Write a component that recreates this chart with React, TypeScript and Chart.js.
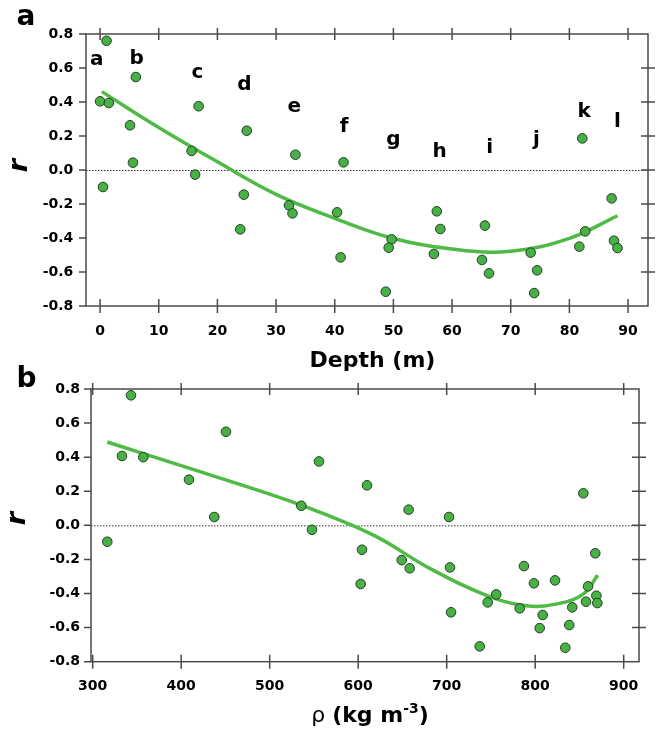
import { useEffect, useRef } from "react";
import { Chart, registerables } from "chart.js";
Chart.register(...registerables);

// ---------- Panel a: r vs depth ----------
const depthX = [1.1, 0, 1.5, 0.5, 6.1, 5.1, 5.6, 16.8, 15.6, 16.2, 25.0, 24.5, 23.9, 33.3, 32.2, 32.8, 40.4, 41.0, 41.5, 49.7, 49.2, 48.7, 57.4, 58.0, 56.9, 65.6, 65.1, 66.3, 73.4, 74.5, 74.0, 82.2, 82.7, 81.7, 87.2, 87.6, 88.2];
const depthR = [0.76, 0.404, 0.394, -0.10, 0.547, 0.263, 0.043, 0.375, 0.112, -0.027, 0.231, -0.145, -0.349, 0.09, -0.208, -0.255, -0.249, -0.514, 0.045, -0.408, -0.457, -0.716, -0.243, -0.347, -0.494, -0.327, -0.529, -0.608, -0.486, -0.59, -0.724, 0.186, -0.361, -0.451, -0.167, -0.416, -0.459];
const depthFitX = [0.3, 10, 20, 30, 40, 50, 60, 70, 80, 88.2];
const depthFitR = [0.461, 0.25, 0.048, -0.143, -0.284, -0.403, -0.465, -0.478, -0.402, -0.269];
const depthTicks = [0, 10, 20, 30, 40, 50, 60, 70, 80, 90];
const depthTickLabels = ["0", "10", "20", "30", "40", "50", "60", "70", "80", "90"];
const siteLetters = ["a", "b", "c", "d", "e", "f", "g", "h", "i", "j", "k", "l"];
const siteLetterX = [-0.56, 6.25, 16.6, 24.6, 33.1, 41.6, 50.0, 57.9, 66.4, 74.4, 82.5, 88.2];
const siteLetterY = [0.618, 0.624, 0.539, 0.471, 0.343, 0.225, 0.147, 0.078, 0.098, 0.147, 0.314, 0.255];

// ---------- Panel b: r vs density ----------
const rhoX = [343.3, 333.1, 357.2, 316.5, 408.8, 437.4, 450.6, 535.7, 547.8, 555.7, 610, 604.3, 602.8, 657, 649.2, 658.2, 702.6, 703.7, 704.9, 737.3, 746.3, 756.0, 782.5, 787.3, 798.6, 808.5, 805.1, 822.4, 834.0, 838.5, 841.9, 854.4, 857.4, 859.7, 867.9, 869.1, 870.2];
const rhoR = [0.763, 0.407, 0.40, -0.096, 0.268, 0.049, 0.549, 0.115, -0.026, 0.375, 0.235, -0.143, -0.344, 0.092, -0.204, -0.252, 0.049, -0.247, -0.51, -0.71, -0.452, -0.405, -0.487, -0.239, -0.34, -0.526, -0.603, -0.323, -0.718, -0.585, -0.481, 0.188, -0.448, -0.358, -0.164, -0.413, -0.456];
const rhoFitX = [316.5, 400, 500, 560, 620, 680, 740, 790, 830, 855, 870.6];
const rhoFitR = [0.489, 0.35, 0.183, 0.07, -0.065, -0.25, -0.40, -0.472, -0.455, -0.40, -0.292];
const rhoTicks = [300, 400, 500, 600, 700, 800, 900];
const rhoTickLabels = ["300", "400", "500", "600", "700", "800", "900"];

// ---------- shared y axis ----------
const rTicks = [-0.8, -0.6, -0.4, -0.2, 0, 0.2, 0.4, 0.6, 0.8];
const rTickLabels = ["-0.8", "-0.6", "-0.4", "-0.2", "0.0", "0.2", "0.4", "0.6", "0.8"];

const FILL = "#48b046";
const EDGE = "#1f3f1f";
const LINE = "#4fba46";
const AXIS = "#4a4a4a";
const FONT = "DejaVu Sans";

type Panel = {
  ptX: number[]; ptY: number[]; fitX: number[]; fitY: number[];
  xMin: number; xMax: number; xTicks: number[]; xTickLabels: string[];
  padTop: number; padRight: number; yAxisW: number; xAxisH: number;
  xPad: number; yPad: number;
  panel: string; panelX: number; panelY: number;
  rX: number; rY: number;
  titleDx: number; titleDy: number;
  drawTitle: (ctx: CanvasRenderingContext2D, cx: number, base: number) => void;
  letters?: boolean;
};

function overlay(p: Panel) {
  return {
    id: "overlay" + p.panel,
    beforeDatasetsDraw(chart: any) {
      const { ctx, chartArea: a, scales } = chart;
      const y0 = scales.y.getPixelForValue(0);
      ctx.save();
      ctx.strokeStyle = "#333";
      ctx.lineWidth = 1;
      ctx.setLineDash([1.5, 1.5]);
      ctx.beginPath();
      ctx.moveTo(a.left, y0 + 0.5);
      ctx.lineTo(a.right, y0 + 0.5);
      ctx.stroke();
      ctx.restore();
    },
    afterDraw(chart: any) {
      const { ctx, chartArea: a, scales } = chart;
      const xs = scales.x, ys = scales.y;
      ctx.save();
      ctx.strokeStyle = AXIS;
      ctx.lineWidth = 1.5;
      ctx.strokeRect(a.left, a.top, a.right - a.left, a.bottom - a.top);
      ctx.beginPath();
      for (const v of p.xTicks) {
        const px = xs.getPixelForValue(v);
        ctx.moveTo(px, a.bottom - 7);
        ctx.lineTo(px, a.bottom + 7);
        ctx.moveTo(px, a.top - 6);
        ctx.lineTo(px, a.top + 6);
      }
      for (const v of rTicks) {
        const py = ys.getPixelForValue(v);
        ctx.moveTo(a.left - 7, py);
        ctx.lineTo(a.left, py);
        if (v > -0.79 && v < 0.79) {
          ctx.moveTo(a.right - 7, py);
          ctx.lineTo(a.right + 7, py);
        }
      }
      ctx.stroke();

      ctx.fillStyle = "#000";
      if (p.letters) {
        ctx.font = `bold 20px "${FONT}"`;
        ctx.textAlign = "center";
        ctx.textBaseline = "alphabetic";
        siteLetters.forEach((s, i) => {
          ctx.fillText(s, xs.getPixelForValue(siteLetterX[i]), ys.getPixelForValue(siteLetterY[i]));
        });
      }
      // panel label
      ctx.font = `bold 28px "${FONT}"`;
      ctx.textAlign = "center";
      ctx.textBaseline = "alphabetic";
      ctx.fillText(p.panel, p.panelX, p.panelY);
      // y title
      ctx.save();
      ctx.translate(p.rX, p.rY);
      ctx.rotate(-Math.PI / 2);
      ctx.font = `italic bold 27px "${FONT}"`;
      ctx.textAlign = "center";
      ctx.textBaseline = "alphabetic";
      ctx.fillText("r", 0, 0);
      ctx.restore();
      // x title
      p.drawTitle(ctx, (a.left + a.right) / 2 + p.titleDx, a.bottom + p.titleDy);
      ctx.restore();
    },
  };
}

function makeConfig(p: Panel): any {
  const tickFont = { family: FONT, weight: "bold" as const, size: 14 };
  return {
    type: "scatter",
    data: {
      datasets: [
        {
          type: "line",
          data: p.fitX.map((x, i) => ({ x, y: p.fitY[i] })),
          borderColor: LINE,
          borderWidth: 3.5,
          pointRadius: 0,
          tension: 0.4,
          fill: false,
          order: 2,
        },
        {
          type: "scatter",
          data: p.ptX.map((x, i) => ({ x, y: p.ptY[i] })),
          backgroundColor: FILL,
          borderColor: EDGE,
          borderWidth: 1,
          pointRadius: 4.8,
          order: 1,
        },
      ],
    },
    options: {
      animation: false,
      responsive: false,
      devicePixelRatio: 1,
      events: [],
      layout: { padding: { top: p.padTop, right: p.padRight, left: 0, bottom: 0 } },
      plugins: { legend: { display: false }, tooltip: { enabled: false } },
      scales: {
        x: {
          type: "linear",
          min: p.xMin,
          max: p.xMax,
          afterFit: (s: any) => { s.height = p.xAxisH; },
          afterBuildTicks: (s: any) => { s.ticks = p.xTicks.map((v) => ({ value: v })); },
          ticks: {
            callback: (_v: any, i: number) => p.xTickLabels[i],
            font: tickFont,
            color: "#000",
            padding: p.xPad,
            maxRotation: 0,
            autoSkip: false,
          },
          grid: { display: false, drawTicks: false },
          border: { display: false },
        },
        y: {
          type: "linear",
          min: -0.8,
          max: 0.8,
          afterFit: (s: any) => { s.width = p.yAxisW; },
          afterBuildTicks: (s: any) => { s.ticks = rTicks.map((v) => ({ value: v })); },
          ticks: {
            callback: (_v: any, i: number) => rTickLabels[i],
            font: tickFont,
            color: "#000",
            padding: p.yPad,
            autoSkip: false,
          },
          grid: { display: false, drawTicks: false },
          border: { display: false },
        },
      },
    },
    plugins: [overlay(p)],
  };
}

const drawDepthTitle = (ctx: CanvasRenderingContext2D, cx: number, base: number) => {
  ctx.font = `bold 22px "${FONT}"`;
  ctx.textAlign = "center";
  ctx.textBaseline = "alphabetic";
  ctx.fillText("Depth (m)", cx, base);
};

const drawRhoTitle = (ctx: CanvasRenderingContext2D, cx: number, base: number) => {
  const parts = [
    { t: "ρ ", f: `22px "${FONT}"`, dy: 0 },
    { t: "(kg m", f: `bold 22px "${FONT}"`, dy: 0 },
    { t: "-3", f: `bold 14px "${FONT}"`, dy: -8.5 },
    { t: ")", f: `bold 22px "${FONT}"`, dy: 0 },
  ];
  let total = 0;
  const widths = parts.map((q) => { ctx.font = q.f; const w = ctx.measureText(q.t).width; total += w; return w; });
  let x = cx - total / 2;
  ctx.textAlign = "left";
  ctx.textBaseline = "alphabetic";
  parts.forEach((q, i) => {
    ctx.font = q.f;
    ctx.fillText(q.t, x, base + q.dy);
    x += widths[i];
  });
};

const panelA: Panel = {
  ptX: depthX, ptY: depthR, fitX: depthFitX, fitY: depthFitR,
  xMin: -2.4, xMax: 93.4, xTicks: depthTicks, xTickLabels: depthTickLabels,
  padTop: 34, padRight: 16, yAxisW: 86, xAxisH: 74, xPad: 17, yPad: 12.7,
  panel: "a", panelX: 26, panelY: 25, rX: 27.3, rY: 165.5,
  titleDx: 5.5, titleDy: 61.3, drawTitle: drawDepthTitle, letters: true,
};

const panelB: Panel = {
  ptX: rhoX, ptY: rhoR, fitX: rhoFitX, fitY: rhoFitR,
  xMin: 298.1, xMax: 917.3, xTicks: rhoTicks, xTickLabels: rhoTickLabels,
  padTop: 29, padRight: 25, yAxisW: 91, xAxisH: 73.3, xPad: 16.4, yPad: 11,
  panel: "b", panelX: 26.5, panelY: 27, rX: 25, rY: 158.5,
  titleDx: 5, titleDy: 60, drawTitle: drawRhoTitle,
};

export default function App() {
  const topRef = useRef<HTMLCanvasElement>(null);
  const botRef = useRef<HTMLCanvasElement>(null);
  useEffect(() => {
    const c1 = new Chart(topRef.current as HTMLCanvasElement, makeConfig(panelA));
    const c2 = new Chart(botRef.current as HTMLCanvasElement, makeConfig(panelB));
    return () => { c1.destroy(); c2.destroy(); };
  }, []);
  return (
    <div style={{ position: "absolute", left: 0, top: 0, width: 664, height: 735, background: "#fff" }}>
      <canvas ref={topRef} width={664} height={380} style={{ position: "absolute", left: 0, top: 0, width: 664, height: 380 }} />
      <canvas ref={botRef} width={664} height={375} style={{ position: "absolute", left: 0, top: 360, width: 664, height: 375 }} />
    </div>
  );
}
